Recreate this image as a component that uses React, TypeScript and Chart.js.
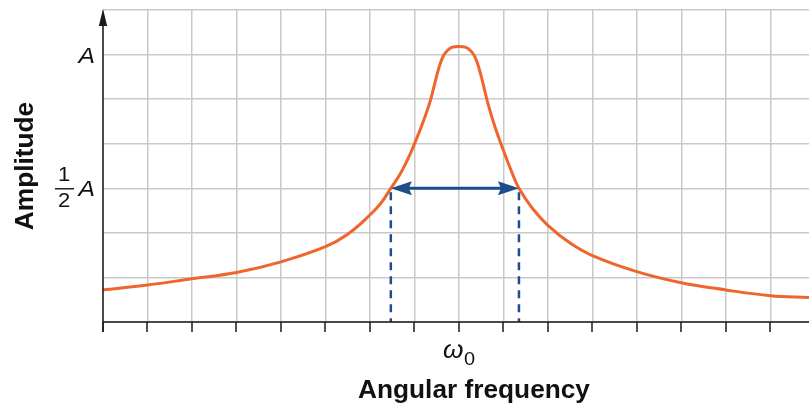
import React, { useEffect, useRef } from 'react';
import { Chart, registerables } from 'chart.js';

Chart.register(...registerables);

// Angular frequency in grid units (resonance omega_0 at 8)
const frequency = [0, 1, 2, 3, 4, 5, 5.5, 6, 6.25, 6.47, 6.68, 6.86, 7.01, 7.17, 7.35, 7.46, 7.55, 7.64, 7.73, 7.84, 8.0, 8.16, 8.27, 8.36, 8.45, 8.54, 8.65, 8.81, 8.99, 9.17, 9.35, 9.66, 10, 10.5, 11, 12, 13, 14, 15, 15.87];
// Amplitude in grid units (A = 6, A/2 = 3)
const amplitude = [0.72, 0.83, 0.97, 1.11, 1.35, 1.69, 1.97, 2.4, 2.67, 3.0, 3.32, 3.67, 4.02, 4.42, 4.94, 5.36, 5.7, 5.95, 6.08, 6.16, 6.18, 6.16, 6.08, 5.95, 5.7, 5.36, 4.91, 4.38, 3.88, 3.41, 3.0, 2.54, 2.17, 1.77, 1.49, 1.13, 0.88, 0.72, 0.59, 0.55];

const halfWidthFreqs = [6.47, 9.35];
const halfLevel = 3;
const fullLevel = 6;
const resonanceFreq = 8;
const xTickValues = [0, 1, 2, 3, 4, 5, 6, 7, 8, 9, 10, 11, 12, 13, 14, 15];
const yLabelTop = 'A';
const yLabelHalfNum = '1';
const yLabelHalfDen = '2';
const xLabelSymbol = 'ω';
const xLabelSub = '0';
const xTitle = 'Angular frequency';
const yTitle = 'Amplitude';

const X_MAX = 15.87;
const Y_MAX = 7;

const ORANGE = '#ef652c';
const BLUE = '#1d4e8a';
const GRID = '#c9c9c9';
const AXIS = '#1a1a1a';
const FONT = '"Liberation Sans", Arial, sans-serif';

function drawText(ctx: CanvasRenderingContext2D, text: string, x: number, y: number, font: string, align: CanvasTextAlign, sx = 1, rot = 0) {
  ctx.save();
  ctx.translate(x, y);
  if (rot) ctx.rotate(rot);
  ctx.scale(sx, 1);
  ctx.font = font;
  ctx.textAlign = align;
  ctx.textBaseline = 'alphabetic';
  ctx.fillStyle = '#111';
  ctx.fillText(text, 0, 0);
  ctx.restore();
}

const decorPlugin = {
  id: 'decor',
  afterDatasetsDraw(chart: any) {
    const { ctx, chartArea: a, scales } = chart;
    const xs = scales.x;
    const ys = scales.y;
    ctx.save();

    // arrowheads of the full-width-at-half-maximum arrow
    const yHalf = ys.getPixelForValue(halfLevel);
    const xl = xs.getPixelForValue(halfWidthFreqs[0]);
    const xr = xs.getPixelForValue(halfWidthFreqs[1]);
    ctx.fillStyle = BLUE;
    const head = (tip: number, dir: number) => {
      ctx.beginPath();
      ctx.moveTo(tip, yHalf);
      ctx.lineTo(tip + dir * 21, yHalf - 7);
      ctx.lineTo(tip + dir * 18, yHalf);
      ctx.lineTo(tip + dir * 21, yHalf + 7);
      ctx.closePath();
      ctx.fill();
    };
    head(xl, 1);
    head(xr, -1);

    // axes
    ctx.strokeStyle = AXIS;
    ctx.lineWidth = 1.5;
    ctx.beginPath();
    ctx.moveTo(a.left, a.bottom);
    ctx.lineTo(a.right, a.bottom);
    ctx.stroke();
    ctx.beginPath();
    ctx.moveTo(a.left, a.bottom + 10);
    ctx.lineTo(a.left, a.top + 12);
    ctx.stroke();
    ctx.fillStyle = AXIS;
    ctx.beginPath();
    ctx.moveTo(a.left, a.top - 1);
    ctx.lineTo(a.left - 4.2, a.top + 16);
    ctx.lineTo(a.left + 4.2, a.top + 16);
    ctx.closePath();
    ctx.fill();

    // tick marks
    xTickValues.forEach((v) => {
      const px = Math.round(xs.getPixelForValue(v));
      ctx.beginPath();
      ctx.moveTo(px, a.bottom);
      ctx.lineTo(px, a.bottom + 10);
      ctx.stroke();
    });

    // y labels
    const yA = ys.getPixelForValue(fullLevel);
    drawText(ctx, yLabelTop, 95, yA + 8, `italic 22px ${FONT}`, 'right', 1.12);
    drawText(ctx, yLabelTop, 95, yHalf + 8, `italic 22px ${FONT}`, 'right', 1.12);
    drawText(ctx, yLabelHalfNum, 64, yHalf - 7, `20px ${FONT}`, 'center', 1.1);
    drawText(ctx, yLabelHalfDen, 64, yHalf + 19, `20px ${FONT}`, 'center', 1.1);
    ctx.strokeStyle = '#111';
    ctx.lineWidth = 1.4;
    ctx.beginPath();
    ctx.moveTo(55, yHalf + 0.5);
    ctx.lineTo(74, yHalf + 0.5);
    ctx.stroke();

    // x label omega_0
    const x0 = xs.getPixelForValue(resonanceFreq);
    drawText(ctx, xLabelSymbol, x0 - 16, a.bottom + 36, `italic 25px ${FONT}`, 'left', 1.05);
    drawText(ctx, xLabelSub, x0 + 5, a.bottom + 43, `19px ${FONT}`, 'left', 1.05);

    // axis titles
    drawText(ctx, xTitle, 474, 398, `bold 25px ${FONT}`, 'center', 1.05);
    drawText(ctx, yTitle, 33, 166, `bold 25px ${FONT}`, 'center', 1.05, -Math.PI / 2);

    ctx.restore();
  },
};

export default function App() {
  const ref = useRef<HTMLCanvasElement | null>(null);
  useEffect(() => {
    if (!ref.current) return;
    const curve = frequency.map((f, i) => ({ x: f, y: amplitude[i] }));
    const chart = new Chart(ref.current, {
      type: 'line',
      data: {
        datasets: [
          {
            data: [{ x: halfWidthFreqs[0], y: halfLevel }, { x: halfWidthFreqs[0], y: 0 }],
            borderColor: BLUE,
            borderWidth: 2.5,
            borderDash: [8, 6],
            borderDashOffset: -4,
            pointRadius: 0,
            tension: 0,
          },
          {
            data: [{ x: halfWidthFreqs[1], y: halfLevel }, { x: halfWidthFreqs[1], y: 0 }],
            borderColor: BLUE,
            borderWidth: 2.5,
            borderDash: [8, 6],
            borderDashOffset: -4,
            pointRadius: 0,
            tension: 0,
          },
          {
            data: [{ x: halfWidthFreqs[0] + 0.3, y: halfLevel }, { x: halfWidthFreqs[1] - 0.3, y: halfLevel }],
            borderColor: BLUE,
            borderWidth: 3,
            pointRadius: 0,
            tension: 0,
          },
          {
            data: curve,
            borderColor: ORANGE,
            borderWidth: 3,
            pointRadius: 0,
            tension: 0.4,
          },
        ],
      },
      options: {
        responsive: false,
        animation: false,
        events: [],
        layout: { padding: { left: 103, top: 10, right: 0, bottom: 82 } },
        plugins: { legend: { display: false }, tooltip: { enabled: false } },
        scales: {
          x: {
            type: 'linear',
            min: 0,
            max: X_MAX,
            ticks: { display: false, stepSize: 1, includeBounds: false },
            grid: {
              drawTicks: false,
              lineWidth: 1.5,
              color: (c: any) => (c.tick && Number.isInteger(c.tick.value) ? GRID : 'rgba(0,0,0,0)'),
            },
            border: { display: false },
          },
          y: {
            type: 'linear',
            min: 0,
            max: Y_MAX,
            ticks: { display: false, stepSize: 1 },
            grid: { drawTicks: false, lineWidth: 1.5, color: GRID },
            border: { display: false },
          },
        },
      },
      plugins: [decorPlugin],
    } as any);
    return () => chart.destroy();
  }, []);
  return (
    <div style={{ position: 'absolute', left: 0, top: 0, width: 809, height: 404, background: '#fff' }}>
      <canvas ref={ref} width={809} height={404} style={{ display: 'block' }} />
    </div>
  );
}
